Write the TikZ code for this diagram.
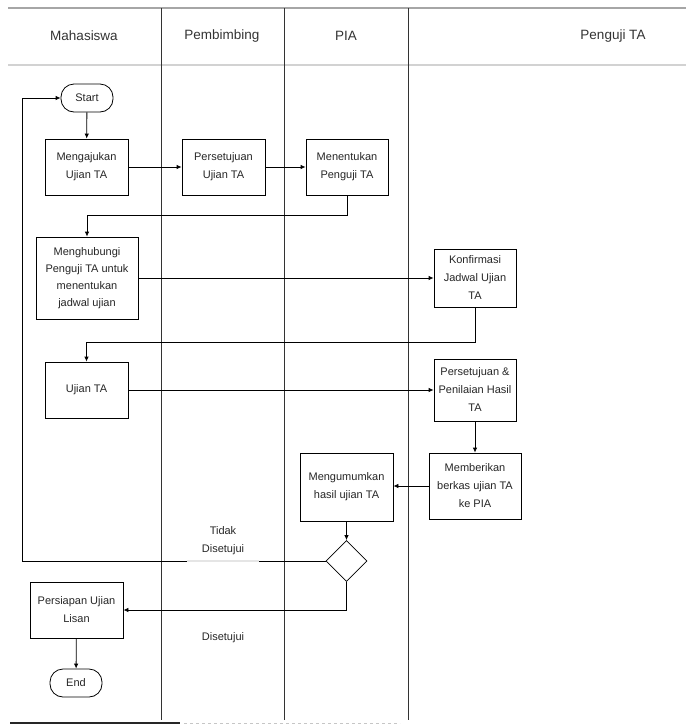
\documentclass[tikz,border=0pt]{standalone}
\usepackage{fontspec}
\setmainfont{Liberation Sans}
\usetikzlibrary{arrows.meta,shapes.geometric}
\begin{document}
\begin{tikzpicture}[x=1pt,y=-1pt,
  proc/.style={draw,line width=0.8pt,align=center,inner sep=1pt,font=\fontsize{11}{18}\selectfont,text=black!85},
  term/.style={draw,line width=0.8pt,rounded corners=13pt,minimum width=52pt,minimum height=28pt,inner sep=0pt,font=\fontsize{11}{18}\selectfont,text=black!85},
  dec/.style={draw,line width=0.8pt,diamond,minimum width=41pt,minimum height=41pt,inner sep=0pt},
  hdr/.style={font=\fontsize{13.5}{16}\selectfont,text=black!80},
  lbl/.style={align=center,font=\fontsize{11}{18}\selectfont,text=black!85},
  arr/.style={line width=0.8pt,-{Latex[length=5pt,width=4.5pt]}},
  lane/.style={line width=0.9pt,black!80}]
\useasboundingbox (0,0) rectangle (686,724);
% header
\draw[line width=2pt,gray!70] (8,8) -- (686,8);
\draw[line width=1.5pt,gray!35] (8,65) -- (686,65);
\foreach \xx in {161,284,408} \draw[lane] (\xx,8) -- (\xx,720);
\node[hdr] (h1) at (84,36) {Mahasiswa};
\node[hdr] (h2) at (222,36) {Pembimbing};
\node[hdr] (h3) at (346,36) {PIA};
\node[hdr] (h4) at (613,36) {Penguji TA};
% nodes
\node[term] (start) at (87,98) {Start};
\node[proc,minimum width=83pt,minimum height=56pt] (a1) at (86.5,167) {Mengajukan\\Ujian TA};
\node[proc,minimum width=83pt,minimum height=56pt] (b1) at (223.5,167) {Persetujuan\\Ujian TA};
\node[proc,minimum width=82pt,minimum height=56pt] (c1) at (347,167) {Menentukan\\Penguji TA};
\node[proc,minimum width=102pt,minimum height=82pt,font=\fontsize{11}{17}\selectfont] (a2) at (87,278) {Menghubungi\\Penguji TA untuk\\menentukan\\jadwal ujian};
\node[proc,minimum width=82pt,minimum height=58pt] (d1) at (475,278) {Konfirmasi\\Jadwal Ujian\\TA};
\node[proc,minimum width=83pt,minimum height=56pt] (a3) at (86.5,390) {Ujian TA};
\node[proc,minimum width=82pt,minimum height=62pt] (d2) at (475,390) {Persetujuan \&\\Penilaian Hasil\\TA};
\node[proc,minimum width=92pt,minimum height=66pt] (d3) at (475,486) {Memberikan\\berkas ujian TA\\ke PIA};
\node[proc,minimum width=93pt,minimum height=68pt] (c2) at (346.5,487) {Mengumumkan\\hasil ujian TA};
\node[dec] (dd) at (346.5,561) {};
\node[proc,minimum width=93pt,minimum height=56pt] (a4) at (76.5,610) {Persiapan Ujian\\Lisan};
\node[term] (end) at (76,683) {End};
\node[lbl] (l1) at (223,541) {Tidak\\Disetujui};
\node[lbl] (l2) at (223,638) {Disetujui};
\coordinate (lpx) at (22,0);
% connectors
\draw[arr] (start) -- (a1);
\draw[arr] (a1) -- (b1);
\draw[arr] (b1) -- (c1);
\draw[arr] (c1.south) -- ++(0,20) -| (a2.north);
\draw[arr] (a2) -- (d1);
\draw[arr] (d1.south) -- ++(0,35) -| (a3.north);
\draw[arr] (a3) -- (d2);
\draw[arr] (d2) -- (d3);
\draw[arr] (d3) -- (c2.east |- d3.west);
\draw[arr] (c2) -- (dd);
\draw[arr] (dd.south) |- (a4.east);
\draw[arr] (a4) -- (end);
\draw[arr] (dd.west) -- (dd.west -| lpx) |- (start.west);
\draw[line width=1.2pt,gray!20] (187,561) -- (259,561);
% bottom line
\draw[line width=1.5pt,black!85] (10,723) -- (180,723);
\draw[line width=1pt,gray!45,dashed] (184,723) -- (400,723);
\end{tikzpicture}
\end{document}
